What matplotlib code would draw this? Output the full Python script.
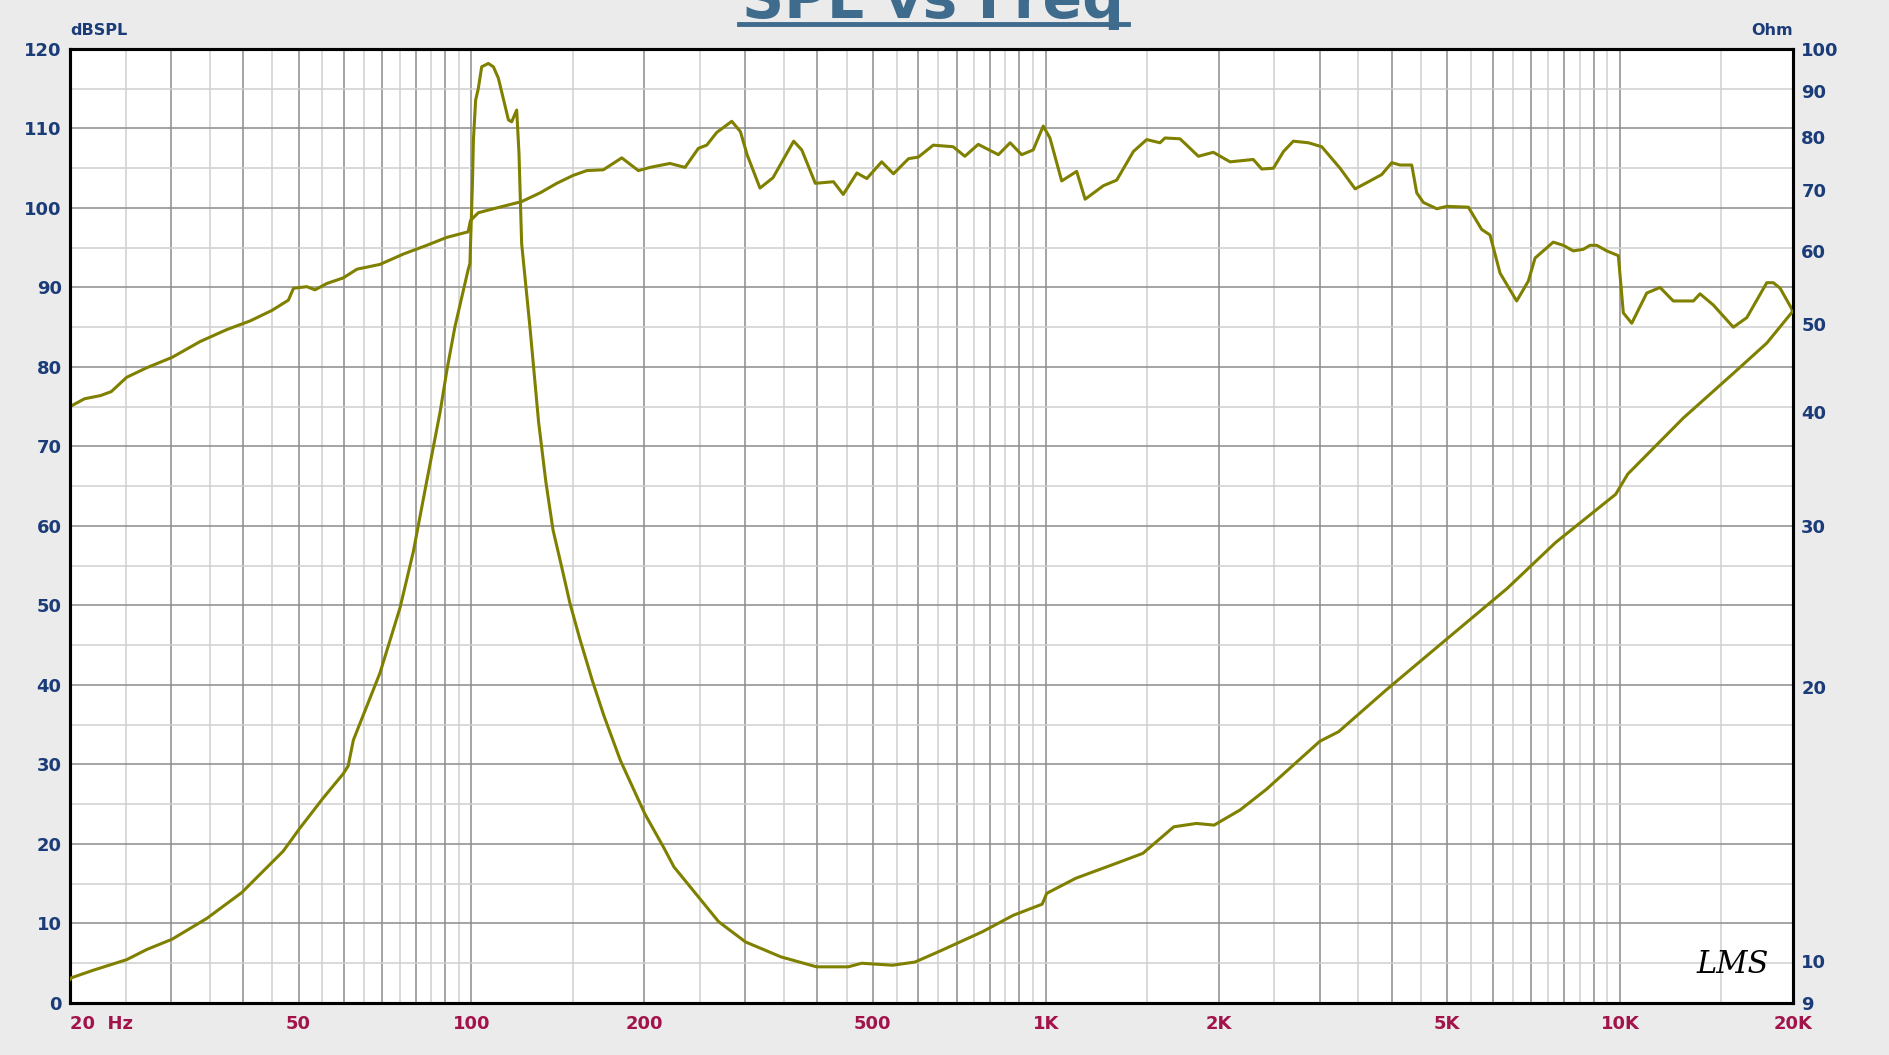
import matplotlib
matplotlib.use("Agg")
import matplotlib.pyplot as plt
from matplotlib.lines import Line2D
from matplotlib.ticker import NullLocator, NullFormatter

# SPL curve (left axis, dBSPL)
spl_freq = [20, 20.1, 21.2, 22.6, 23.6, 25.1, 27.2, 30.1, 33.7, 37.5, 41.2, 44.9, 48.0, 49.0,
            51.7, 53.4, 56.0, 59.8, 63.2, 69.3, 76.1, 83.6, 90.6, 98.7, 99.6, 102.8, 109.2,
            122.3, 131.7, 140.8, 150.4, 158.8, 169.7, 182.7, 195.3, 204.6, 221.6, 235.5,
            248.4, 256.9, 267.4, 284, 294, 302, 318, 335, 364, 376, 397, 427, 444, 469, 488,
            518, 543, 577, 600, 637, 690, 723, 763, 827, 867, 908, 951, 990, 1017, 1066,
            1132, 1171, 1260, 1329, 1421, 1499, 1581, 1613, 1713, 1760, 1844, 1958, 2094,
            2298, 2377, 2491, 2594, 2698, 2866, 3024, 3254, 3457, 3670, 3846, 4004, 4139,
            4338, 4426, 4544, 4796, 4993, 5444, 5742, 5937, 6181, 6607, 6923, 7113, 7650,
            7964, 8290, 8630, 8866, 9108, 9480, 9932, 10132, 10480, 11130, 11740, 12380,
            13420, 13780, 14530, 15750, 16620, 18010, 18490, 19000, 19910, 20000]
spl_db = [75.0, 75.1, 76.0, 76.4, 76.9, 78.7, 79.9, 81.2, 83.2, 84.7, 85.8, 87.1, 88.4, 89.9,
          90.1, 89.7, 90.5, 91.2, 92.3, 92.9, 94.2, 95.3, 96.3, 97.0, 98.4, 99.4, 99.9,
          100.8, 101.9, 103.1, 104.1, 104.7, 104.8, 106.3, 104.7, 105.1, 105.6, 105.1,
          107.5, 107.9, 109.5, 110.9, 109.6, 106.7, 102.5, 103.8, 108.4, 107.3, 103.1,
          103.3, 101.7, 104.4, 103.7, 105.8, 104.3, 106.2, 106.4, 107.9, 107.7, 106.5,
          108.0, 106.7, 108.2, 106.7, 107.3, 110.3, 108.8, 103.4, 104.6, 101.1, 102.8,
          103.5, 107.1, 108.6, 108.2, 108.8, 108.7, 107.9, 106.5, 107.0, 105.8, 106.1,
          104.9, 105.0, 107.1, 108.4, 108.2, 107.7, 105.0, 102.4, 103.4, 104.2, 105.7,
          105.4, 105.4, 101.9, 100.7, 99.9, 100.2, 100.1, 97.3, 96.6, 91.8, 88.3, 90.8,
          93.7, 95.7, 95.3, 94.6, 94.8, 95.3, 95.3, 94.6, 94.0, 86.8, 85.5, 89.3, 90.0,
          88.3, 88.3, 89.2, 87.8, 85.0, 86.2, 90.6, 90.6, 89.9, 87.3, 86.8]

# impedance curve (right axis, Ohm)
imp_freq = [20, 20.1, 22.0, 25.1, 27.2, 30.1, 34.6, 39.8, 47.0, 50.3, 55.2, 59.8, 61.0, 62.3,
            69.3, 75.1, 79.2, 83.6, 88.2, 90.6, 93.6, 98.7, 99.4, 100.4, 100.8, 101.7, 102.8,
            104.2, 107, 109.2, 111.4, 116, 117.5, 119.9, 121, 122.3, 126.5, 130.9, 134.8,
            138.7, 143.5, 148.4, 154.3, 162.4, 170, 181.7, 200.5, 216.5, 225.2, 269.4, 300,
            346, 399, 453, 478, 541, 592, 659, 775, 878, 986, 1004, 1128, 1325, 1476, 1671,
            1830, 1964, 2180, 2421, 3000, 3236, 3926, 4995, 6362, 7721, 9827, 10314, 12890,
            15750, 18010, 20000]
imp_ohm = [9.55, 9.59, 9.78, 10.04, 10.3, 10.57, 11.14, 11.89, 13.2, 14.0, 15.1, 16.05, 16.37,
           17.48, 20.7, 24.4, 28.1, 33.6, 40.0, 44.4, 49.6, 57.3, 58.2, 71.2, 79.5, 87.9,
           90.5, 95.6, 96.4, 95.6, 92.9, 83.6, 83.2, 85.7, 76.9, 61.2, 49.4, 39.0, 33.5,
           29.7, 27.1, 24.7, 22.6, 20.3, 18.6, 16.6, 14.5, 13.3, 12.69, 11.05, 10.5,
           10.11, 9.86, 9.86, 9.95, 9.9, 9.98, 10.28, 10.77, 11.23, 11.55, 11.87, 12.33,
           12.8, 13.13, 14.04, 14.16, 14.1, 14.65, 15.43, 17.42, 17.85, 19.86, 22.56, 25.63,
           28.77, 32.5, 34.2, 39.4, 44.1, 47.6, 51.6]

freq_major = [20, 30, 40, 50, 60, 70, 80, 90, 100, 200, 300, 400, 500, 600, 700, 800, 900,
              1000, 2000, 3000, 4000, 5000, 6000, 7000, 8000, 9000, 10000, 20000]
freq_minor = [25, 35, 45, 55, 65, 75, 85, 95, 150, 250, 350, 450, 550, 650, 750, 850, 950,
              1500, 2500, 3500, 4500, 5500, 6500, 7500, 8500, 9500, 15000]
freq_labels = {20: "20  Hz", 50: "50", 100: "100", 200: "200", 500: "500", 1000: "1K",
               2000: "2K", 5000: "5K", 10000: "10K", 20000: "20K"}
db_ticks = [0, 10, 20, 30, 40, 50, 60, 70, 80, 90, 100, 110, 120]
db_minor = [5, 15, 25, 35, 45, 55, 65, 75, 85, 95, 105, 115]
ohm_ticks = [9, 10, 20, 30, 40, 50, 60, 70, 80, 90, 100]

curve_col = "#808000"
blue = "#1b3c78"
red = "#a3134b"

fig = plt.figure(figsize=(18.9, 10.55), dpi=100)
fig.patch.set_facecolor("#ebebeb")
ax = fig.add_axes([0.03704, 0.0493, 0.9116, 0.9043])
ax.set_facecolor("white")
ax.set_xscale("log")
ax.set_xlim(20, 20000)
ax.set_ylim(0, 120)

ax.set_xticks(freq_major, labels=[freq_labels.get(f, "") for f in freq_major])
ax.set_xticks(freq_minor, minor=True)
ax.xaxis.set_minor_formatter(NullFormatter())
ax.set_yticks(db_ticks, labels=[str(v) for v in db_ticks])
ax.set_yticks(db_minor, minor=True)
ax.yaxis.set_minor_formatter(NullFormatter())
ax.grid(which="major", color="#8c8c8c", lw=1.1)
ax.grid(which="minor", color="#cfcfcf", lw=1.1)
ax.set_axisbelow(True)
ax.tick_params(which="both", length=0)
ax.tick_params(axis="x", pad=9, labelsize=13, labelcolor=red)
ax.tick_params(axis="y", pad=6, labelsize=13, labelcolor=blue)
for lab in ax.get_xticklabels():
    lab.set_fontweight("bold")
for lab in ax.get_yticklabels():
    lab.set_fontweight("bold")
ax.get_xticklabels()[0].set_ha("left")

ax.plot(spl_freq, spl_db, color=curve_col, lw=2.2, zorder=3)

ax2 = ax.twinx()
ax2.set_yscale("log")
ax2.set_ylim(9, 100)
ax2.set_yticks(ohm_ticks, labels=[str(v) for v in ohm_ticks])
ax2.yaxis.set_minor_locator(NullLocator())
ax2.tick_params(which="both", length=0, pad=6, labelsize=13, labelcolor=blue)
for lab in ax2.get_yticklabels():
    lab.set_fontweight("bold")
ax2.plot(imp_freq, imp_ohm, color=curve_col, lw=2.2, zorder=3)

for a in (ax, ax2):
    for s in a.spines.values():
        s.set_linewidth(2.2)
        s.set_color("black")

# axis unit labels
fig.text(0.037, 0.971, "dBSPL", color=blue, fontsize=11.5, fontweight="bold",
         ha="left", va="center")
fig.text(0.9487, 0.971, "Ohm", color=blue, fontsize=11.5, fontweight="bold",
         ha="right", va="center")

# title, cut at the top edge as in the original, underlined
fig.text(0.4937, 0.983, "SPL vs Freq", color="#3f6b8d", fontsize=42, fontweight="bold",
         ha="center", va="baseline")
fig.add_artist(Line2D([0.391, 0.597], [0.977, 0.977], transform=fig.transFigure,
                      color="#3f6b8d", lw=3.5))

# LMS mark
ax.text(0.965, 0.04, "LMS", transform=ax.transAxes, fontsize=22, style="italic",
        family="DejaVu Serif", color="black", ha="center", va="center", zorder=5)

fig.savefig("out.png", dpi=100, facecolor=fig.get_facecolor())
